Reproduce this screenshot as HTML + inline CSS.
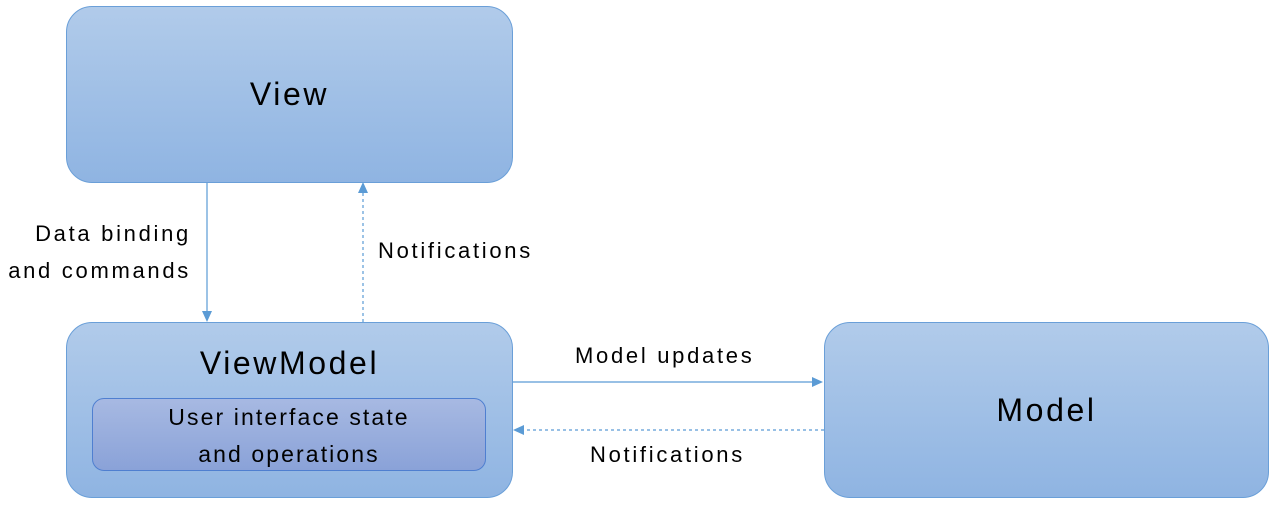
<!DOCTYPE html>
<html><head><style>
body{margin:0;width:1274px;height:505px;background:#fff;position:relative;overflow:hidden;font-family:"Liberation Sans",sans-serif;color:#000}
.box{position:absolute;border:1px solid #6a9fd8;border-radius:26px;background:linear-gradient(#b1cbea,#8fb4e2);box-sizing:border-box;display:flex;justify-content:center;letter-spacing:2.6px}
.t{position:absolute;font-size:22px;letter-spacing:2.7px;white-space:nowrap}
</style></head><body>
<div class="box" style="left:66px;top:6px;width:447px;height:177px;align-items:center;font-size:32px">View</div>
<div class="box" style="left:66px;top:322px;width:447px;height:176px;font-size:32px;padding-top:22px">ViewModel</div>
<div style="position:absolute;left:92px;top:398px;width:394px;height:73px;border:1px solid #4f7fd0;border-radius:12px;background:linear-gradient(#a7b9e2,#8aa2d8);box-sizing:border-box;text-align:center;font-size:23px;line-height:37px;letter-spacing:2.1px">User interface state<br>and operations</div>
<div class="box" style="left:824px;top:322px;width:445px;height:176px;align-items:center;font-size:32px">Model</div>
<svg width="1274" height="505" style="position:absolute;left:0;top:0">
<g stroke="#5b9bd5" stroke-width="1.2" fill="none">
<line x1="207" y1="183" x2="207" y2="312"/>
<line x1="363" y1="322" x2="363" y2="192" stroke-dasharray="3,3"/>
<line x1="513" y1="382" x2="813" y2="382"/>
<line x1="824" y1="430" x2="523" y2="430" stroke-dasharray="3,3"/>
</g>
<g fill="#5b9bd5">
<polygon points="202,311 212,311 207,322"/>
<polygon points="358,193 368,193 363,182"/>
<polygon points="812,377 812,387 823,382"/>
<polygon points="524,425 524,435 513,430"/>
</g>
</svg>
<div class="t" style="right:1083px;top:215px;text-align:right;line-height:37px">Data binding<br>and commands</div>
<div class="t" style="left:378px;top:238px">Notifications</div>
<div class="t" style="left:575px;top:343px">Model updates</div>
<div class="t" style="left:590px;top:442px">Notifications</div>
</body></html>
